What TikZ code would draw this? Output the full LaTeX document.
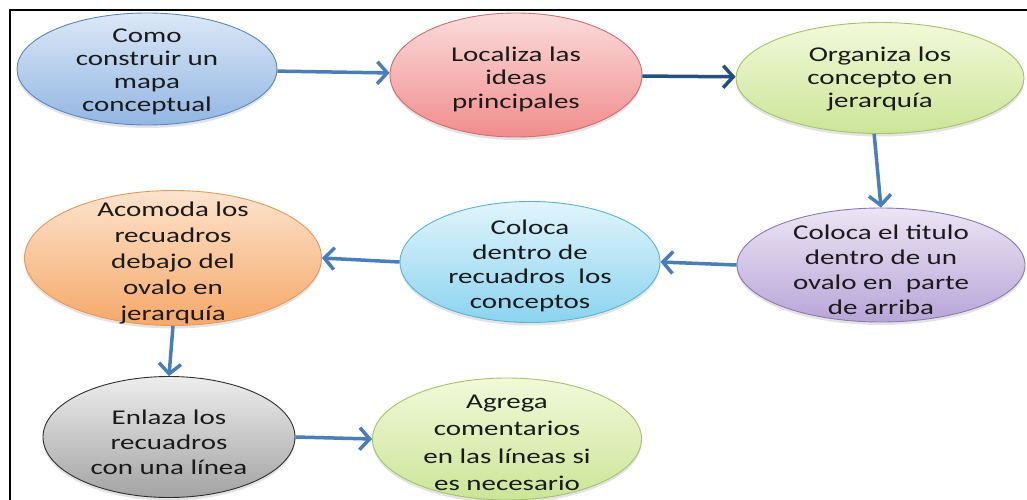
\documentclass[tikz,border=0pt]{standalone}
\usepackage{fontspec}
\setmainfont{Carlito}[FakeStretch=1.38]
\usetikzlibrary{arrows.meta,shapes.geometric,shadows}
\definecolor{txt}{HTML}{1A1A1A}
\definecolor{arr}{HTML}{4A7EBB}
\definecolor{darr}{HTML}{24507F}
\definecolor{blueT}{HTML}{DCE8F7}\definecolor{blueB}{HTML}{92B6E2}\definecolor{blueD}{HTML}{5B86C0}
\definecolor{redT}{HTML}{FBDCDC}\definecolor{redB}{HTML}{F18C8C}\definecolor{redD}{HTML}{CF6E6E}
\definecolor{grnT}{HTML}{F2F9DA}\definecolor{grnB}{HTML}{CBE597}\definecolor{grnD}{HTML}{A6C26A}
\definecolor{purT}{HTML}{ECE5F4}\definecolor{purB}{HTML}{B8A5D8}\definecolor{purD}{HTML}{8D78B0}
\definecolor{cyaT}{HTML}{E0F5FC}\definecolor{cyaB}{HTML}{8BD3EF}\definecolor{cyaD}{HTML}{5BB3D0}
\definecolor{oraT}{HTML}{FDE3CE}\definecolor{oraB}{HTML}{F6A868}\definecolor{oraD}{HTML}{E39A5C}
\definecolor{gryT}{HTML}{EDEDED}\definecolor{gryB}{HTML}{A3A3A3}\definecolor{gryD}{HTML}{2E2E2E}
\begin{document}
\begin{tikzpicture}[x=1pt,y=-1pt,
  ov/.style={ellipse, inner sep=0pt, line width=0.9pt,
    drop shadow={opacity=0.22, shadow xshift=0pt, shadow yshift=-3pt}},
  lbl/.style={align=center, inner sep=0pt, text=txt, font=\fontsize{21}{25}\selectfont},
  con/.style={line width=3.5pt, arr, -{Straight Barb[length=10pt,width=22pt]}},
  blueov/.style={ov, draw=blueD, top color=blueT, bottom color=blueB},
  redov/.style={ov, draw=redD, top color=redT, bottom color=redB},
  grnov/.style={ov, draw=grnD, top color=grnT, bottom color=grnB},
  purov/.style={ov, draw=purD, top color=purT, bottom color=purB},
  cyaov/.style={ov, draw=cyaD, top color=cyaT, bottom color=cyaB},
  oraov/.style={ov, draw=oraD, top color=oraT, bottom color=oraB},
  gryov/.style={ov, draw=gryD, top color=gryT, bottom color=gryB}
]
\useasboundingbox (0,0) rectangle (1027,500);
\draw[line width=2.2pt, black] (1027,10) -- (10,10) -- (10,500);

\node[blueov, minimum width=260pt, minimum height=112pt] (n1) at (147,69) {};
\node[redov,  minimum width=252pt, minimum height=124pt] (n2) at (516,75) {};
\node[grnov,  minimum width=288pt, minimum height=111pt] (n3) at (880,78) {};
\node[purov,  minimum width=288pt, minimum height=114pt] (n4) at (881,265) {};
\node[cyaov,  minimum width=260pt, minimum height=121pt] (n5) at (530,262) {};
\node[oraov,  minimum width=297pt, minimum height=135pt] (n6) at (173,258) {};
\node[gryov,  minimum width=252pt, minimum height=121pt] (n7) at (169,437) {};
\node[grnov,  minimum width=269pt, minimum height=122pt] (n8) at (507,439) {};

\node[lbl, font=\fontsize{21}{23}\selectfont, yshift=-2.5pt] (t1) at (n1) {Como\\construir un\\mapa\\conceptual};
\node[lbl, font=\fontsize{21}{23.5}\selectfont, yshift=-4pt] (t2) at (n2) {Localiza las\\ideas\\principales};
\node[lbl, font=\fontsize{21}{23}\selectfont, yshift=-1.5pt] (t3) at (n3) {Organiza los\\concepto en\\jerarquía};
\node[lbl, yshift=-5pt] (t4) at (n4) {Coloca el titulo\\dentro de un\\ovalo en\ \ parte\\de arriba};
\node[lbl, font=\fontsize{21}{24.5}\selectfont, yshift=-4pt] (t5) at (n5) {Coloca\\dentro de\\recuadros\ \ los\\conceptos};
\node[lbl, font=\fontsize{21}{26}\selectfont, yshift=-5pt] (t6) at (n6) {Acomoda los\\recuadros\\debajo del\\ovalo en\\jerarquía};
\node[lbl, yshift=-5pt] (t7) at (n7) {Enlaza los\\recuadros\\con una línea};
\node[lbl, font=\fontsize{21}{27.5}\selectfont, yshift=-4pt] (t8) at (n8) {Agrega\\comentarios\\en las líneas si\\es necesario};

\draw[con] (n1) -- (n2);
\draw[con, darr] (n2) -- (n3);
\draw[con] (n3.-96) -- (n4.north);
\draw[con] (n4.west) -- (n5.east);
\draw[con] (n5.west) -- (n6.east);
\draw[con] (n6.south) -- (n7.north);
\draw[con] (n7.east) -- (n8.west);
\end{tikzpicture}
\end{document}
